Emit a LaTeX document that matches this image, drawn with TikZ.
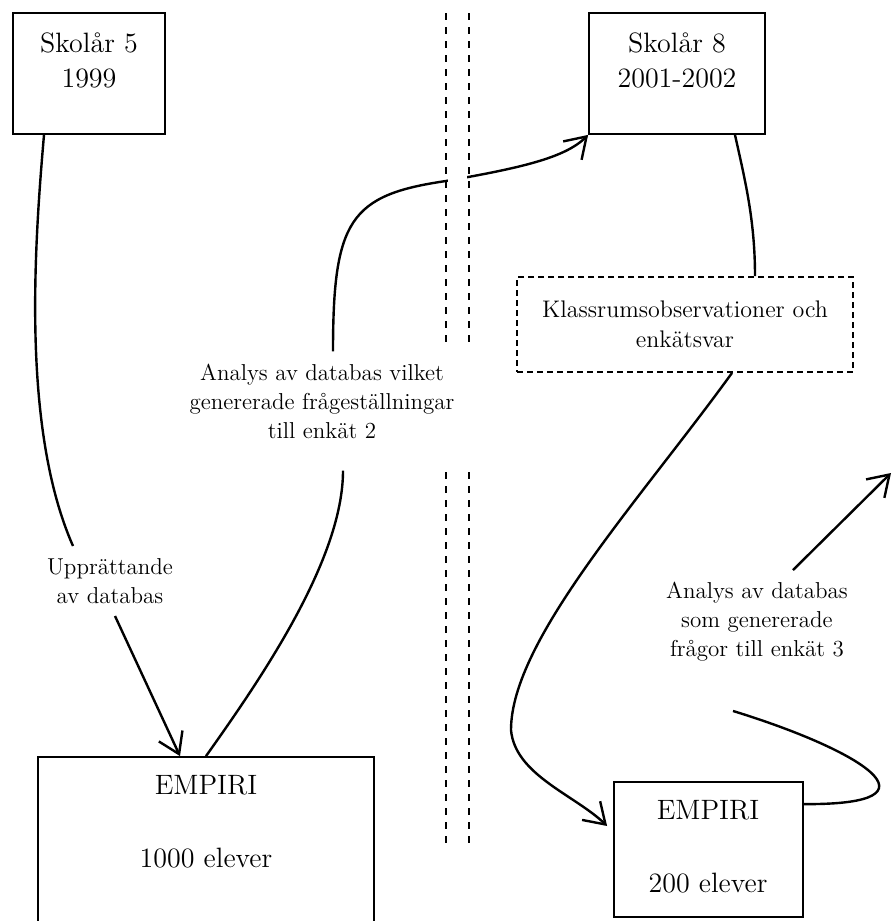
\documentclass[tikz,border=0pt]{standalone}
\usepackage{fontspec}
\usetikzlibrary{arrows.meta}

\begin{document}
\begin{tikzpicture}[x=0.5pt, y=-0.5pt, font=\fontsize{11.5}{14.5}\selectfont,
  ruta/.style={draw, line width=0.9pt, inner sep=0pt},
  stor/.style={font=\fontsize{14}{17.5}\selectfont, align=center},
  note/.style={align=center, inner sep=6pt},
  link/.style={line width=1.2pt},
  pil/.style={line width=1.2pt, -{Straight Barb[length=10pt,width=13pt]}},
  grans/.style={line width=1pt, dash pattern=on 3.5pt off 3.5pt}]
\useasboundingbox (0,0) rectangle (892,921);

% Rutor
\node[ruta, minimum width=76pt, minimum height=60.5pt] (s5) at (89,73.5) {};
\node[stor] (s5t) at (89,60) {Skolår 5\\1999};
\node[ruta, minimum width=88pt, minimum height=60.5pt] (s8) at (677,73.5) {};
\node[stor] (s8t) at (677,60) {Skolår 8\\2001-2002};
\node[ruta, minimum width=168pt, minimum height=84pt] (e1) at (206,841) {};
\node[stor] (e1t) at (206,821.5) {EMPIRI\\[19pt]1000 elever};
\node[ruta, minimum width=94.5pt, minimum height=67.5pt] (e2) at (708.5,849.5) {};
\node[stor] (e2t) at (708,846.5) {EMPIRI\\[19pt]200 elever};
\node[ruta, dash pattern=on 3pt off 2pt, align=center, minimum width=168pt,
  minimum height=47.5pt, font=\fontsize{12}{15}\selectfont] (kl) at (685,324.5)
  {Klassrumsobservationer och\\enkätsvar};

% Texter
\node[note] (up) at (110,581) {Upprättande\\av databas};
\node[note] (a2) at (322,401) {Analys av databas vilket\\genererade frågeställningar\\till enkät 2};
\node[note] (a3) at (757,622) {Analys av databas\\som genererade\\frågor till enkät 3};
\coordinate (ut) at (891,473);

% Pilar
\draw[link] ([xshift=-22.5pt]s5.south) .. controls (34,250) and (22,430) .. ([xshift=-18.5pt]up.north);
\draw[pil] ([xshift=2.5pt]up.south) -- ([xshift=-13pt]e1.north);
\draw[link] (e1.north) .. controls (260,680) and (343,560) .. ([xshift=10.5pt,yshift=-10pt]a2.south);
\draw[pil] ([xshift=5.5pt]a2.north) .. controls (333,220) and (350,195) .. (446,181)
  .. controls (520,168) and (565,158) .. (s8.south west);
\draw[link] ([xshift=29pt]s8.south) .. controls (745,180) and (755,220) .. ([xshift=35pt]kl.north);
\draw[pil] ([xshift=23.5pt]kl.south) .. controls (640,500) and (511,640) .. (511,730)
  .. controls (515,775) and (575,795) .. ([xshift=-3pt,yshift=11.75pt]e2.west);
\draw[link] ([yshift=-11.5pt]e2.north east) .. controls (950,805) and (860,750) .. ([xshift=-12pt,yshift=-18.5pt]a3.south);
\draw[pil] ([xshift=18pt]a3.north) -- (ut);

% Gräns
\fill[white] (448,170) rectangle (467,194);
\foreach \x in {446,469} {
  \draw[grans] (\x,13) -- (\x,348);
  \draw[grans] (\x,472) -- (\x,845);
}
\end{tikzpicture}
\end{document}
